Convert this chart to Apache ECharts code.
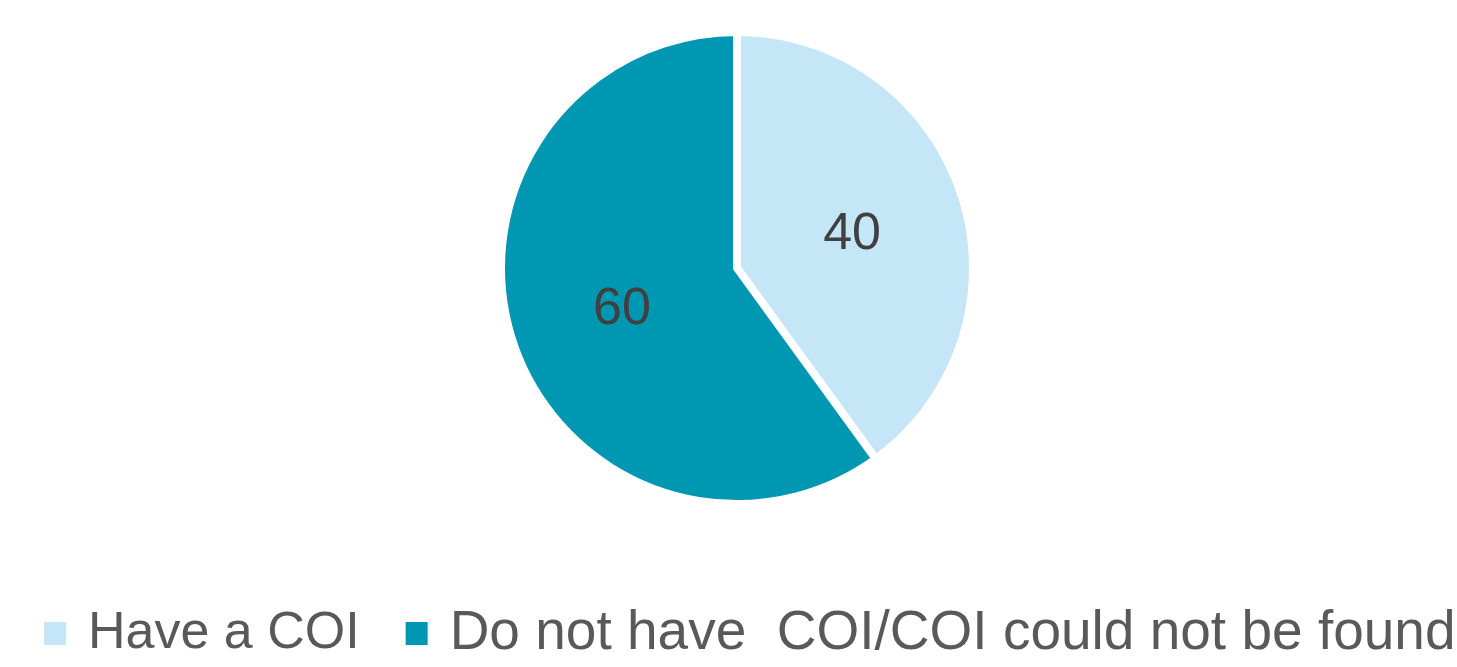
<!DOCTYPE html>
<html>
<head>
<meta charset="utf-8">
<script src="https://cdn.jsdelivr.net/npm/echarts@6/dist/echarts.min.js"></script>
<style>
  html, body { margin: 0; padding: 0; background: #ffffff; }
  #chart { width: 1457px; height: 667px; }
</style>
</head>
<body>
<div id="chart"></div>
<script>
var categories = ['Have a COI', 'Do not have  COI/COI could not be found'];
var values = [40, 60];
var colors = ['#c5e6f6', '#0097b2'];

var pieData = [];
for (var i = 0; i < categories.length; i++) {
    pieData.push({ name: categories[i], value: values[i] });
}

var chart = echarts.init(document.getElementById('chart'));
chart.setOption({
    backgroundColor: '#ffffff',
    color: colors,
    legend: {
        left: 42,
        top: 606,
        padding: 0,
        itemWidth: 24,
        itemHeight: 25,
        itemGap: 44,
        icon: 'rect',
        textStyle: {
            fontFamily: 'Liberation Sans',
            fontSize: 52,
            color: '#595959',
            padding: [0, 0, 0, 16]
        },
        data: [
            { name: categories[0] },
            { name: categories[1], textStyle: { fontSize: 55 } }
        ]
    },
    series: [
        {
            type: 'pie',
            center: [737, 268],
            radius: 236,
            startAngle: 90,
            clockwise: true,
            data: pieData,
            itemStyle: {
                borderColor: '#ffffff',
                borderWidth: 8
            },
            label: {
                show: true,
                position: 'inside',
                formatter: '{c}',
                fontFamily: 'Liberation Sans',
                fontSize: 52,
                color: '#404040',
                offset: [0, 4]
            },
            labelLine: { show: false },
            emphasis: { disabled: true }
        }
    ]
});
</script>
</body>
</html>
